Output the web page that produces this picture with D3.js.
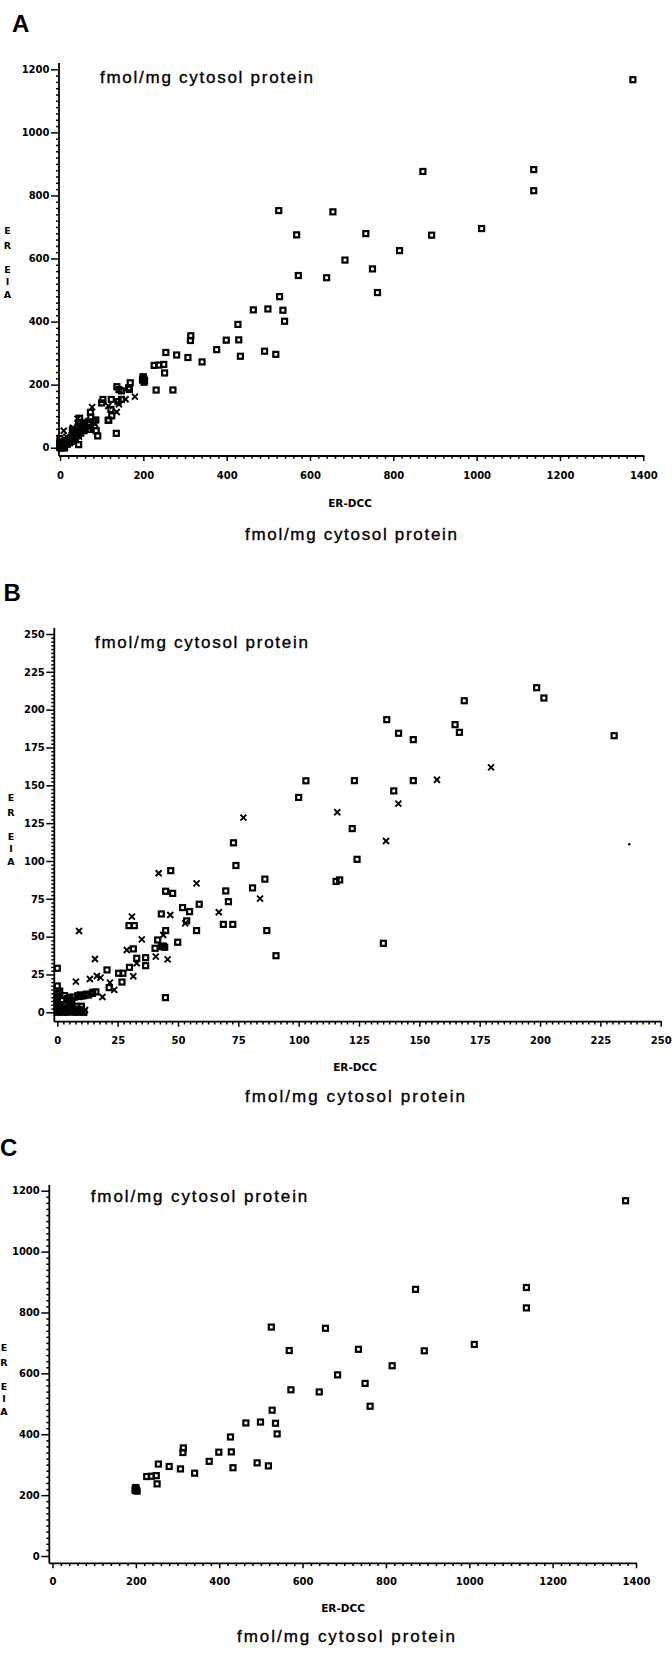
<!DOCTYPE html>
<html>
<head>
<meta charset="utf-8">
<script src="https://cdn.jsdelivr.net/npm/d3@7"></script>
<style>
body { margin:0; padding:0; background:white; overflow:hidden; }
.tick text { font-family: 'DejaVu Sans', sans-serif; font-weight: bold; font-size: 10px; fill: black; }
.unit { font-family: 'Liberation Sans', Arial, sans-serif; font-size: 17px; fill: black; stroke: black; stroke-width: 0.35px; }
.axlab { font-family: 'DejaVu Sans', sans-serif; font-weight: bold; font-size: 10.5px; fill: black; }
.panel { font-family: 'Liberation Sans', Arial, sans-serif; font-weight: bold; font-size: 24px; fill: black; }
</style>
</head>
<body>
<div id="chart"></div>
<script>
// ---------- data : [ER-DCC, ER-EIA] in fmol/mg cytosol protein ----------
// points above ~200 (shown in A, and in C when EIA >= 200)
const highSquares = [
  [1375,1167],[871,876],[1137,882],[1137,815],[734,679],[892,674],[1012,695],
  [684,595],[815,625],[750,567],[762,492],[525,752],[655,748],[568,675],
  [572,546],[640,539],[527,479],[464,437],[499,440],[535,436],[539,401],
  [427,391],[429,342],[399,341],[376,311],[314,355],[313,340],[307,286],
  [341,272],[280,294],[254,302],[433,290],[491,306],[518,296],[226,261],
  [237,262],[249,264],[251,237],[271,183],[199,222],[201,218],[200,225],
  [203,213],[198,216]
];
// low range (shown in A and B)
const lowSquares = [
  [198.6,214.5],[201.6,207.7],[168.6,205.9],[136.5,193.4],[141.4,184.4],[147.5,180.2],
  [164.8,190.1],[166.6,185],[230.7,182.8],[123.1,153.1],[147.5,153.1],[139.4,146.3],
  [122.2,121.4],[124.2,101.1],[115.5,86.5],[117,87.5],[135.1,45.6],
  [103,153],[100,142],[73,112],[74,97],[47,93.6],[86,88],[44.9,80],[47.8,78.6],
  [69.8,80.2],[80.9,82.2],[70.9,73.1],[58.8,71.4],[51.9,69.2],[54.8,66.5],[43.1,65],
  [29.7,57.3],[31.9,57.3],[68.8,58.1],[72.7,58.1],[53.6,60.4],[57.7,54],[44.9,54],
  [86.8,54],[49.9,46.3],[41.6,47.8],[43.2,43.4],[40.5,42.3],[31.5,41.9],[43.9,43.8],
  [44.5,43],[90.6,37.4],[32.9,35.7],[36.6,36.1],[36.6,30.8],[0,29.1],[29.9,29.7],
  [20.6,28],[25.4,25.8],[27.2,25.8],[26.8,20],[21.5,16.3],[44.8,9.7],[14.7,13.2],
  [12.4,11.5],[10.1,10.8],[9.1,10.4],[0,17.4],[0,12.6],
  [0,0],[0,2],[0,4],[0,6],[0,8],[0,10],[1,1],[1,5],[2,0],[2,3],[2,8],[3,1],[3,5],
  [4,2],[4,0],[4,9],[5,3],[5,6],[5,10],[6,1],[6,4],[6,8],[7,0],[7,2],[7,10],[8,4],
  [8,1],[9,2],[9,0],[10,1],[10,4],[11,0],[11,11],[12,12],[13,11.5],[14.5,12.5],
  [16,13.5],[8.5,11],[9.5,11.5],[3,11],[1,14]
];
const lowCrosses = [
  [179.7,161.9],[157.3,153.7],[141.3,137.9],[136.2,113.2],[116,132.2],
  [77.1,128.6],[42,91.9],[57.7,85.2],[84,75.1],[66.9,66.1],[30.9,63.2],[46.8,64.3],
  [53,58.8],[43.9,51.1],[9,53.7],[35,48.2],[28.8,41.2],[40.8,36.8],[45.7,35],
  [15.6,35.2],[32.9,32.4],[31.5,23.8],[16.4,24],[17.9,22.9],[13.5,22],[21.8,19.6],
  [7.7,20.3],[23.6,14.8],[18.7,10.1],[11.5,1.5],[2,1],[5,2],[8,2]
];
const strayDots = [[237,111]];

const ticksWide = [0,200,400,600,800,1000,1200,1400];
const yTicksWide = [0,200,400,600,800,1000,1200];
const ticksNarrow = [0,25,50,75,100,125,150,175,200,225,250];
const unitText = "fmol/mg cytosol protein";
const xText = "ER-DCC";
const yLetters = ["E","R","E","I","A"];
const yLetterOffsets = [0,15,39,51,64];

// ---------- layout ----------
const panels = [
  {id:"A", sq: lowSquares.concat(highSquares), cr: lowCrosses, dots: [],
   xTicks: ticksWide, yTicks: yTicksWide, xMax:1400, yMax:1200, minor:20,
   xr:[60,643.3], yr:[447.7,69.3], axX:59, axY:456, axTop:63,
   lab:[12,32], top:[100,83,213], erdcc:[350,507], bottom:[351,539.5,212], ylab:[7.5,230], xOff:16},
  {id:"B", sq: lowSquares, cr: lowCrosses, dots: strayDots,
   xTicks: ticksNarrow, yTicks: ticksNarrow, xMax:250, yMax:250, minor:2.5,
   xr:[57.3,660.7], yr:[1012.3,634], axX:54.3, axY:1021.7, axTop:628,
   lab:[3.5,600.5], top:[95,648,213], erdcc:[355,1071], bottom:[355,1102,220], ylab:[11,797], xOff:15},
  {id:"C", sq: highSquares.filter(d => d[1] >= 200), cr: [], dots: [],
   xTicks: ticksWide, yTicks: yTicksWide, xMax:1400, yMax:1200, minor:20,
   xr:[52.5,636], yr:[1556,1190.7], axX:49.3, axY:1563.3, axTop:1185,
   lab:[0,1155.5], top:[90.7,1201.5,216.6], erdcc:[343,1612], bottom:[346,1641.5,218], ylab:[4,1347], xOff:15}
];

const svg = d3.select("#chart").append("svg")
  .attr("width", 672).attr("height", 1659)
  .style("background", "white");

panels.forEach(p => {
  const g = svg.append("g");
  const x = d3.scaleLinear().domain([0, p.xMax]).range(p.xr);
  const y = d3.scaleLinear().domain([0, p.yMax]).range(p.yr);

  const xMinor = d3.range(0, p.xMax + p.minor/2, p.minor).filter(v => p.xTicks.indexOf(v) < 0);
  const yMinor = d3.range(0, p.yMax + p.minor/2, p.minor).filter(v => p.yTicks.indexOf(v) < 0);

  // minor ticks
  g.append("g").attr("class", "minor").attr("transform", `translate(0,${p.axY})`)
    .call(d3.axisBottom(x).tickValues(xMinor).tickSize(2.8).tickFormat(""))
    .call(a => a.select(".domain").remove());
  g.append("g").attr("class", "minor").attr("transform", `translate(${p.axX},0)`)
    .call(d3.axisLeft(y).tickValues(yMinor).tickSize(3).tickFormat(""))
    .call(a => a.select(".domain").remove());

  // major ticks + labels
  g.append("g").attr("transform", `translate(0,${p.axY})`)
    .call(d3.axisBottom(x).tickValues(p.xTicks).tickSize(5).tickPadding(p.xOff - 5).tickFormat(d3.format("d")))
    .call(a => a.select(".domain").remove());
  g.append("g").attr("transform", `translate(${p.axX},0)`)
    .call(d3.axisLeft(y).tickValues(p.yTicks).tickSize(8).tickPadding(1.5).tickFormat(d3.format("d")))
    .call(a => a.select(".domain").remove());

  g.selectAll(".tick line").attr("stroke", "black").attr("stroke-width", 1.5);

  // axis lines
  g.append("line").attr("x1", p.axX).attr("x2", x(p.xMax) + 1)
    .attr("y1", p.axY).attr("y2", p.axY).attr("stroke", "black").attr("stroke-width", 1.8);
  g.append("line").attr("x1", p.axX).attr("x2", p.axX)
    .attr("y1", p.axTop).attr("y2", p.axY).attr("stroke", "black").attr("stroke-width", 1.8);

  // marks
  g.selectAll(".sq").data(p.sq).enter().append("rect")
    .attr("x", d => x(d[0]) - 2.5).attr("y", d => y(d[1]) - 2.5)
    .attr("width", 5).attr("height", 5)
    .attr("fill", "none").attr("stroke", "black").attr("stroke-width", 2.2);
  g.selectAll(".cr").data(p.cr).enter().append("path")
    .attr("d", d => {
      const cx = x(d[0]), cy = y(d[1]), r = 3;
      return `M${cx-r},${cy-r}L${cx+r},${cy+r}M${cx-r},${cy+r}L${cx+r},${cy-r}`;
    })
    .attr("stroke", "black").attr("stroke-width", 1.9);
  g.selectAll(".dot").data(p.dots).enter().append("circle")
    .attr("cx", d => x(d[0])).attr("cy", d => y(d[1])).attr("r", 1.3).attr("fill", "black");

  // texts
  g.append("text").attr("class", "panel").attr("x", p.lab[0]).attr("y", p.lab[1]).text(p.id);
  g.append("text").attr("class", "unit").attr("x", p.top[0]).attr("y", p.top[1])
    .attr("textLength", p.top[2]).attr("lengthAdjust", "spacing").text(unitText);
  g.append("text").attr("class", "axlab").attr("x", p.erdcc[0]).attr("y", p.erdcc[1])
    .attr("text-anchor", "middle").text(xText);
  g.append("text").attr("class", "unit").attr("x", p.bottom[0] - p.bottom[2]/2).attr("y", p.bottom[1])
    .attr("textLength", p.bottom[2]).attr("lengthAdjust", "spacing").text(unitText);
  g.selectAll(".yl").data(yLetters).enter().append("text")
    .attr("class", "axlab").style("font-size", "9.5px")
    .attr("x", p.ylab[0]).attr("y", (d, i) => p.ylab[1] + yLetterOffsets[i])
    .attr("text-anchor", "middle").attr("dominant-baseline", "central")
    .text(d => d);
});
</script>
</body>
</html>
